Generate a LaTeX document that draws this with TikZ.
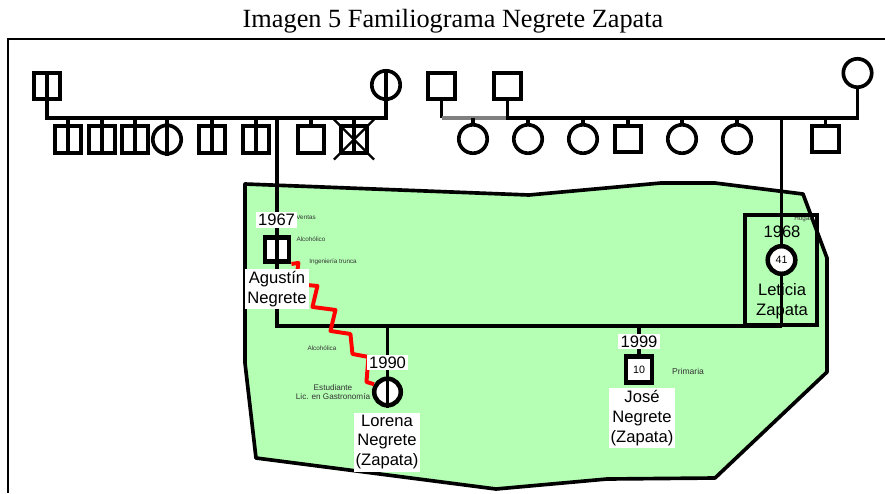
\documentclass[tikz,border=0pt]{standalone}
\usepackage{fontspec}
\setmainfont{Liberation Serif}
\newfontfamily\arial{Liberation Sans}
\usetikzlibrary{calc}

\definecolor{verde}{RGB}{181,255,181}

\tikzset{
	hombre/.style={draw, rectangle, line width=2.6pt, fill=white, minimum size=0.66cm, inner sep=0pt},
	mujer/.style={draw, circle, line width=2.6pt, fill=white, minimum size=0.71cm, inner sep=0pt},
	foco/.style={line width=3.2pt, font=\arial\fontsize{7.6}{8}\selectfont},
	linea/.style={line width=2.6pt},
	anio/.style={fill=white, inner sep=1.5pt, font=\arial\fontsize{11.8}{14}\selectfont},
	nombre/.style={fill=white, align=center, inner sep=1.5pt, font=\arial\fontsize{11.8}{14.2}\selectfont},
	nota/.style={text=black!80, inner sep=0pt, font=\arial\fontsize{4.5}{5}\selectfont},
	hostil/.style={red, line width=2.8pt, line join=round},
}

\begin{document}
\begin{tikzpicture}[x=0.025cm, y=-0.025cm]
	\useasboundingbox (0,0) rectangle (885,493);

	\node[font=\fontsize{18.7}{20}\selectfont] (titulo) at (453,21) {Imagen 5 Familiograma Negrete Zapata};
	\draw[line width=1.6pt] (8,493) -- (8,39) -- (885,39);

	% el hogar
	\filldraw[fill=verde, line width=2.6pt, line join=round] (245,184) -- (529,195) -- (661,183) -- (715,183) -- (803,194) -- (827,258) -- (827,372) -- (715,478) -- (607,479) -- (496,489) -- (256,458) -- (245,363) -- cycle;

	\coordinate (pbar) at (0,118);
	\coordinate (mbar) at (0,118);
	\coordinate (union) at (0,326);

	% abuelos
	\node[hombre] (abuelop) at (47,86) {};
	\node[mujer] (abuelap) at (386,85) {};
	\node[hombre] (abuelom) at (441.5,86) {};
	\node[hombre] (abuelom2) at (507.5,86) {};
	\node[mujer] (abuelam) at (857.5,73) {};

	% hermanos de Agustin
	\foreach \n/\x in {1/68,2/102,3/135,5/212,6/256,7/311,8/354}
		\node[hombre] (tp\n) at (\x,139.5) {};
	\node[mujer] (tp4) at (167,139.5) {};

	% hermanos de Leticia
	\foreach \n/\x in {1/473,2/528,3/583,5/682,6/737}
		\node[mujer] (tm\n) at (\x,139) {};
	\foreach \n/\x in {4/628,7/825.5}
		\node[hombre] (tm\n) at (\x,139) {};

	\node[hombre, foco, minimum size=0.61cm] (agustin) at (277,249.5) {};
	\node[mujer, foco, minimum size=0.69cm] (leticia) at (781.5,260) {41};
	\node[mujer, foco, minimum size=0.665cm] (lorena) at (387.5,392) {};
	\node[hombre, foco, minimum size=0.64cm] (jose) at (639,369.5) {10};

	% lineas paternas
	\draw[linea] (abuelop.north) -- (abuelop.north |- pbar) -- (abuelap.north |- pbar) -- (abuelap.north);
	\foreach \n in {1,2,3,4,5,6,8}
		\draw[linea] (tp\n.south) -- (tp\n.north |- pbar);
	\draw[linea] (tp7.north) -- (tp7.north |- pbar);
	\draw[line width=1.6pt] ($(tp8.north west)+(-5,-5)$) -- ($(tp8.south east)+(5,5)$);
	\draw[line width=1.6pt] ($(tp8.north east)+(5,-5)$) -- ($(tp8.south west)+(-5,5)$);

	% lineas maternas
	\draw[linea] (abuelom.south) -- (abuelom.south |- mbar);
	\draw[linea, gray] (abuelom.south |- mbar) -- (abuelom2.south |- mbar);
	\draw[linea] (abuelom2.south) -- (abuelom2.south |- mbar) -- (abuelam.south |- mbar) -- (abuelam.south);
	\foreach \n in {1,...,7}
		\draw[linea] (tm\n.north) -- (tm\n.north |- mbar);

	% pareja e hijos
	\draw[linea] (agustin.north |- pbar) -- (agustin.south |- union) -- (leticia.south |- union);
	\draw[linea] (lorena.south) -- (lorena.north |- union);
	\draw[linea] (jose.north) -- (jose.north |- union);

	% relacion hostil
	\draw[hostil] (agustin.south east) -- ++(7,-1) -- ++(-3,21) -- ++(22,2) -- ++(-5,21) -- ++(23,3) -- ++(-5,21) -- ++(20,3) -- ++(2,20) -- ++(16,3) -- ++(-2,25) -- (lorena.150);

	% textos
	\node[nota, anchor=east] (n1) at (316,217) {Ventas};
	\node[nota] (n2) at (311,239) {Alcohólico};
	\node[nota] (n3) at (333,262) {Ingeniería trunca};
	\node[nota] (n4) at (322,348) {Alcohólica};
	\node[nota, align=center, font=\arial\fontsize{5.8}{7}\selectfont] (n5) at (333,392) {Estudiante\\Lic. en Gastronomía};
	\node[nota, font=\arial\fontsize{6.1}{7}\selectfont] (n6) at (688,371) {Primaria};
	\node[nota] (n7) at (803,218.5) {Hogar};

	\node[anio] (a1) at (276.5,220) {1967};
	\node[nombre] (nagustin) at (277,289) {Agustín\\Negrete};
	\node[anio] (a2) at (387.5,362.5) {1990};
	\node[nombre] (nlorena) at (387,442) {Lorena\\Negrete\\(Zapata)};
	\node[anio] (a3) at (639,341.5) {1999};
	\node[nombre] (njose) at (642,418) {José\\Negrete\\(Zapata)};
	\node[anio, fill=none] (a4) at (782,232) {1968};
	\node[nombre, fill=none] (nleticia) at (782,301) {Leticia\\Zapata};

	% Leticia y su linea
	\draw[linea] (leticia.north |- mbar) -- (leticia.north);
	\draw[linea] (leticia.south) -- (leticia.south |- union);
	\draw[linea] (745,215) rectangle (817,325);

\end{tikzpicture}
\end{document}
